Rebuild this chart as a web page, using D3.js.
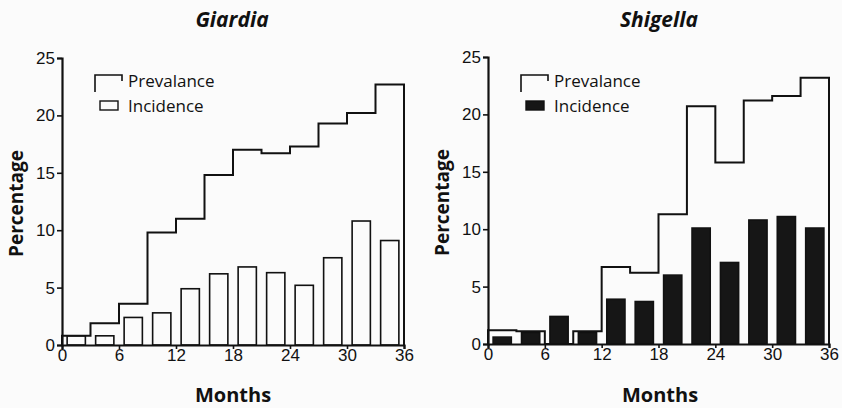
<!DOCTYPE html>
<html>
<head>
<meta charset="utf-8">
<script src="https://cdn.jsdelivr.net/npm/d3@7"></script>
<style>
  body { margin: 0; background: #fbfbfb; }
  svg { display: block; font-family: "Open Sans", "Noto Sans", sans-serif; }
  .tick text { font-size: 17px; fill: #111; }
  .axisTitle { font-size: 20px; font-weight: bold; fill: #111; }
  .yTitle { font-size: 19px; }
  .panelTitle { font-size: 21px; font-weight: bold; font-style: italic; fill: #111; }
  .legendText { font-size: 17px; fill: #111; }
</style>
</head>
<body>
<script>
// ------ Data ---------------//
var periodStart = [0, 3, 6, 9, 12, 15, 18, 21, 24, 27, 30, 33];   // months, 3-month periods
var monthTicks = [0, 6, 12, 18, 24, 30, 36];
var pctTicks = [0, 5, 10, 15, 20, 25];

var giardiaPrevalence = [0.8, 1.9, 3.6, 9.8, 11.0, 14.8, 17.0, 16.7, 17.3, 19.3, 20.2, 22.7];
var giardiaIncidence  = [0.8, 0.8, 2.4, 2.8, 4.9, 6.2, 6.8, 6.3, 5.2, 7.6, 10.8, 9.1];

var shigellaPrevalence = [1.2, 1.1, 0, 1.1, 6.7, 6.2, 11.3, 20.7, 15.8, 21.2, 21.6, 23.2];
var shigellaIncidence  = [0.6, 1.0, 2.4, 1.0, 3.9, 3.7, 6.0, 10.1, 7.1, 10.8, 11.1, 10.1];

// ------ SVG ---------------//
var width = 842, height = 408;
var svg = d3.select("body").append("svg")
    .attr("width", width)
    .attr("height", height);

// ------ One panel ---------------//
function drawPanel(opt) {
  var g = svg.append("g");

  var x = d3.scaleLinear().domain([0, 36]).range([opt.left, opt.right]);
  var y = d3.scaleLinear().domain([0, 25]).range([opt.bottom, opt.top]);

  var band = d3.scaleBand()
      .domain(periodStart)
      .range([x(0), x(36)])
      .paddingInner(0.36)
      .paddingOuter(0.18);

  // bars
  g.append("g").selectAll("rect")
    .data(opt.incidence)
    .join("rect")
      .attr("x", (d, i) => band(periodStart[i]))
      .attr("width", band.bandwidth())
      .attr("y", d => y(d))
      .attr("height", d => y(0) - y(d))
      .attr("fill", opt.barFill)
      .attr("stroke", "#111")
      .attr("stroke-width", 1.6);

  // prevalence step line
  var pts = [[0, 0]];
  opt.prevalence.forEach((v, i) => pts.push([periodStart[i], v]));
  var last = opt.prevalence[opt.prevalence.length - 1];
  pts.push([36, last], [36, 0]);

  var line = d3.line()
      .x(d => x(d[0]))
      .y(d => y(d[1]))
      .curve(d3.curveStepAfter);

  g.append("path")
    .datum(pts)
    .attr("d", line)
    .attr("fill", "none")
    .attr("stroke", "#111")
    .attr("stroke-width", 2);

  // axes
  var xAxis = g.append("g")
      .attr("transform", `translate(0,${y(0)})`)
      .call(d3.axisBottom(x).tickValues(monthTicks).tickSize(4).tickPadding(0));
  var yAxis = g.append("g")
      .attr("transform", `translate(${x(0)},0)`)
      .call(d3.axisLeft(y).tickValues(pctTicks).tickSize(5).tickPadding(2));

  [xAxis, yAxis].forEach(a => {
    a.select(".domain").attr("stroke", "#111").attr("stroke-width", 2.2);
    a.selectAll(".tick line").attr("stroke", "#111").attr("stroke-width", 1.6);
  });

  // titles
  g.append("text")
    .attr("class", "panelTitle")
    .attr("x", opt.titleX)
    .attr("y", 27)
    .attr("text-anchor", "middle")
    .text(opt.title);

  g.append("text")
    .attr("class", "axisTitle")
    .attr("x", opt.titleX + 1)
    .attr("y", 402)
    .attr("text-anchor", "middle")
    .text("Months");

  g.append("text")
    .attr("class", "axisTitle yTitle")
    .attr("transform", `translate(${x(0) - 39},${(y(0) + y(25)) / 2 + 2}) rotate(-90)`)
    .attr("text-anchor", "middle")
    .text("Percentage");

  // legend
  var lg = g.append("g").attr("transform", `translate(${x(0) + 33},0)`);
  lg.append("path")
    .attr("d", "M0,92V75H27V81")
    .attr("fill", "none")
    .attr("stroke", "#111")
    .attr("stroke-width", 1.6);
  lg.append("text")
    .attr("class", "legendText")
    .attr("x", 33)
    .attr("y", 87)
    .text("Prevalance");
  lg.append("rect")
    .attr("x", 5).attr("y", 101)
    .attr("width", 18).attr("height", 9)
    .attr("fill", opt.barFill)
    .attr("stroke", "#111")
    .attr("stroke-width", 1.4);
  lg.append("text")
    .attr("class", "legendText")
    .attr("x", 33)
    .attr("y", 112)
    .text("Incidence");
}

drawPanel({
  title: "Giardia",
  titleX: 232,
  left: 62, right: 404, top: 58, bottom: 345,
  prevalence: giardiaPrevalence,
  incidence: giardiaIncidence,
  barFill: "#fbfbfb"
});

drawPanel({
  title: "Shigella",
  titleX: 659,
  left: 488, right: 829, top: 57, bottom: 344,
  prevalence: shigellaPrevalence,
  incidence: shigellaIncidence,
  barFill: "#161616"
});
</script>
</body>
</html>
